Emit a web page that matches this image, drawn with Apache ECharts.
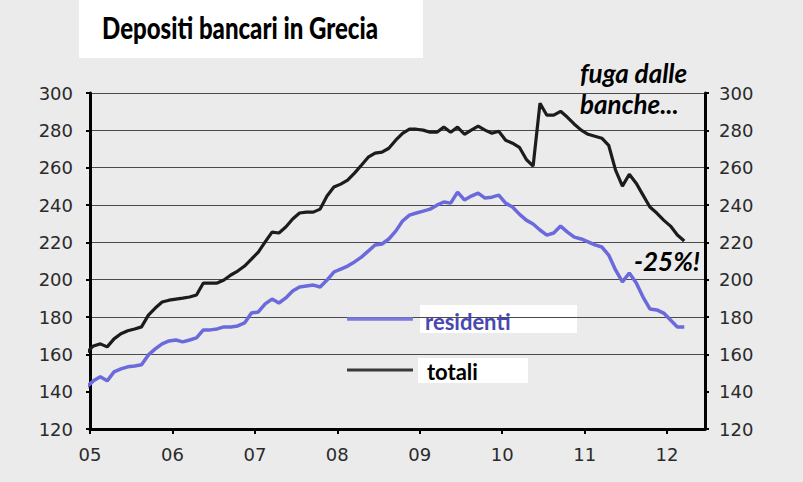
<!DOCTYPE html>
<html><head><meta charset="utf-8">
<script src="https://cdn.jsdelivr.net/npm/echarts@6/dist/echarts.min.js"></script>
<style>html,body{margin:0;padding:0;background:#ebebeb}#c{width:803px;height:482px}</style>
</head><body><div id="c"></div><script>
const months = [
 '2004-12',
 '2005-01','2005-02','2005-03','2005-04','2005-05','2005-06','2005-07','2005-08','2005-09','2005-10','2005-11','2005-12',
 '2006-01','2006-02','2006-03','2006-04','2006-05','2006-06','2006-07','2006-08','2006-09','2006-10','2006-11','2006-12',
 '2007-01','2007-02','2007-03','2007-04','2007-05','2007-06','2007-07','2007-08','2007-09','2007-10','2007-11','2007-12',
 '2008-01','2008-02','2008-03','2008-04','2008-05','2008-06','2008-07','2008-08','2008-09','2008-10','2008-11','2008-12',
 '2009-01','2009-02','2009-03','2009-04','2009-05','2009-06','2009-07','2009-08','2009-09','2009-10','2009-11','2009-12',
 '2010-01','2010-02','2010-03','2010-04','2010-05','2010-06','2010-07','2010-08','2010-09','2010-10','2010-11','2010-12',
 '2011-01','2011-02','2011-03','2011-04','2011-05','2011-06','2011-07','2011-08','2011-09','2011-10','2011-11','2011-12',
 '2012-01','2012-02','2012-03'
];
const totali = [
 161,
 164.5,165.6,164,168.3,171,172.6,173.6,174.7,181,184.8,188,189,
 189.6,190.1,190.7,191.8,198.2,198.2,198.2,199.8,202.5,204.6,207.3,211,
 214.8,220.2,225.5,225,228.2,232.5,235.7,236.2,236.2,237.8,244.8,249.6,
 251.2,253.3,257.1,261.3,265.6,267.8,268.3,270.4,274.7,278.4,280.6,280.6,
 280.1,279,279,281.7,279,281.7,277.9,280.1,282.2,280.1,278.4,279.5,
 274.7,273.1,270.9,264.5,260.8,294.5,288.1,288.1,290.2,287,283.3,280.1,
 277.9,276.8,275.8,272,258.7,250.1,256.5,251.7,245.3,238.9,235.7,231.9,
 228.7,223.9,220.7
];
const residenti = [
 142.6,
 145.8,148,145.8,150.6,152.2,153.3,153.8,154.4,159.7,162.9,165.6,167.2,
 167.7,166.7,167.7,168.8,173.1,173.1,173.6,174.7,174.7,175.2,176.8,182.1,
 182.7,187,189.6,187.5,190.2,193.9,196.1,196.6,197.1,196.1,199.8,204.1,
 205.7,207.3,209.5,212.1,215.3,218.6,219.1,221.8,226,231.4,234.6,235.7,
 236.7,237.8,239.9,241.6,241,246.9,242.7,244.8,246.4,243.7,244.2,245.3,
 241,238.9,235.1,231.9,229.8,226.6,223.9,225,228.7,225.5,222.8,221.8,
 220.2,218.6,217.5,213.2,205.2,198.8,203.6,198.3,190.7,184.3,183.8,182.1,
 178.4,174.7,174.7
];
const yTicks = {min: 120, max: 300, step: 20};
const xRange = {min: 2005, max: 2012.46, step: 1};
const title = 'Depositi bancari in Grecia';
const notes = ['fuga dalle', 'banche...', '-25%!'];
const seriesNames = ['residenti', 'totali'];

const toX = m => { const [y, mo] = m.split('-').map(Number); return y + (mo - 0.5) / 12; };
const pairs = arr => months.map((m, i) => [toX(m), arr[i]]);

const chart = echarts.init(document.getElementById('c'), null, {renderer: 'svg'});
const labelFont = {color: '#2a2a2a', fontSize: 18, fontFamily: 'DejaVu Sans'};
const gridColors = [];
for (let v = yTicks.min; v <= yTicks.max; v += yTicks.step) gridColors.push(v < 160 ? 'rgba(0,0,0,0)' : '#4a4a4a');

const yAxisBase = {
  type: 'value', min: yTicks.min, max: yTicks.max, interval: yTicks.step,
  axisLine: {show: true, lineStyle: {color: '#000', width: 3}},
  axisTick: {show: true, length: 4, lineStyle: {color: '#000', width: 2}},
};
chart.setOption({
  backgroundColor: '#ebebeb',
  animation: false,
  grid: {left: 90, right: 98, top: 93, bottom: 53, containLabel: false, outerBoundsMode: 'none'},
  xAxis: {
    type: 'value', min: xRange.min, max: xRange.max, interval: xRange.step,
    axisLine: {show: true, onZero: false, lineStyle: {color: '#000', width: 3}},
    axisTick: {show: true, length: 5, lineStyle: {color: '#000', width: 2}},
    axisLabel: Object.assign({margin: 16, showMaxLabel: false,
      formatter: v => Number.isInteger(v) ? String(v % 100).padStart(2, '0') : ''}, labelFont),
    splitLine: {show: false}
  },
  yAxis: [
    Object.assign({}, yAxisBase, {position: 'left',
      axisLabel: Object.assign({margin: 17}, labelFont),
      splitLine: {show: true, lineStyle: {color: gridColors, width: 1}}}),
    Object.assign({}, yAxisBase, {position: 'right',
      axisLabel: Object.assign({margin: 14}, labelFont),
      splitLine: {show: false}})
  ],
  series: [
    {name: seriesNames[0], type: 'line', data: pairs(residenti), showSymbol: false, symbol: 'none',
     lineStyle: {color: '#6a6adc', width: 3.5}, z: 3},
    {name: seriesNames[1], type: 'line', data: pairs(totali), showSymbol: false, symbol: 'none',
     lineStyle: {color: '#1c1c1c', width: 3.2}, z: 4}
  ],
  graphic: [
    {type: 'rect', left: 79, top: 0, shape: {width: 344, height: 58}, style: {fill: '#fff'}, z: -10},
    {type: 'text', x: 240, y: 27, scaleX: 0.775, style: {text: title, align: 'center', verticalAlign: 'middle',
      font: '900 31px Lato', fill: '#000'}, z: 10},
    {type: 'text', x: 580, y: 73, style: {text: notes[0], align: 'left', verticalAlign: 'middle',
      font: 'italic bold 26px Lato', fill: '#000'}, z: 10},
    {type: 'text', x: 580, y: 104, style: {text: notes[1], align: 'left', verticalAlign: 'middle',
      font: 'italic bold 26px Lato', fill: '#000'}, z: 10},
    {type: 'text', x: 634, y: 261, style: {text: notes[2], align: 'left', verticalAlign: 'middle',
      font: 'italic bold 26px Lato', fill: '#000'}, z: 10},
    {type: 'rect', shape: {x: 420, y: 305, width: 157, height: 28}, style: {fill: '#fff'}, z: -5},
    {type: 'rect', shape: {x: 418, y: 358, width: 110, height: 25}, style: {fill: '#fff'}, z: -5},
    {type: 'line', shape: {x1: 347, y1: 319, x2: 413, y2: 319}, style: {stroke: '#7a7ae0', lineWidth: 3.5}, z: 10},
    {type: 'line', shape: {x1: 347, y1: 370, x2: 413, y2: 370}, style: {stroke: '#3a3a3a', lineWidth: 3}, z: 10},
    {type: 'text', x: 425, y: 321, style: {text: seriesNames[0], align: 'left', verticalAlign: 'middle',
      font: 'bold 22px Lato', fill: '#4848b0'}, z: 10},
    {type: 'text', x: 427, y: 371, style: {text: seriesNames[1], align: 'left', verticalAlign: 'middle',
      font: 'bold 22px Lato', fill: '#000'}, z: 10}
  ]
});
</script></body></html>
